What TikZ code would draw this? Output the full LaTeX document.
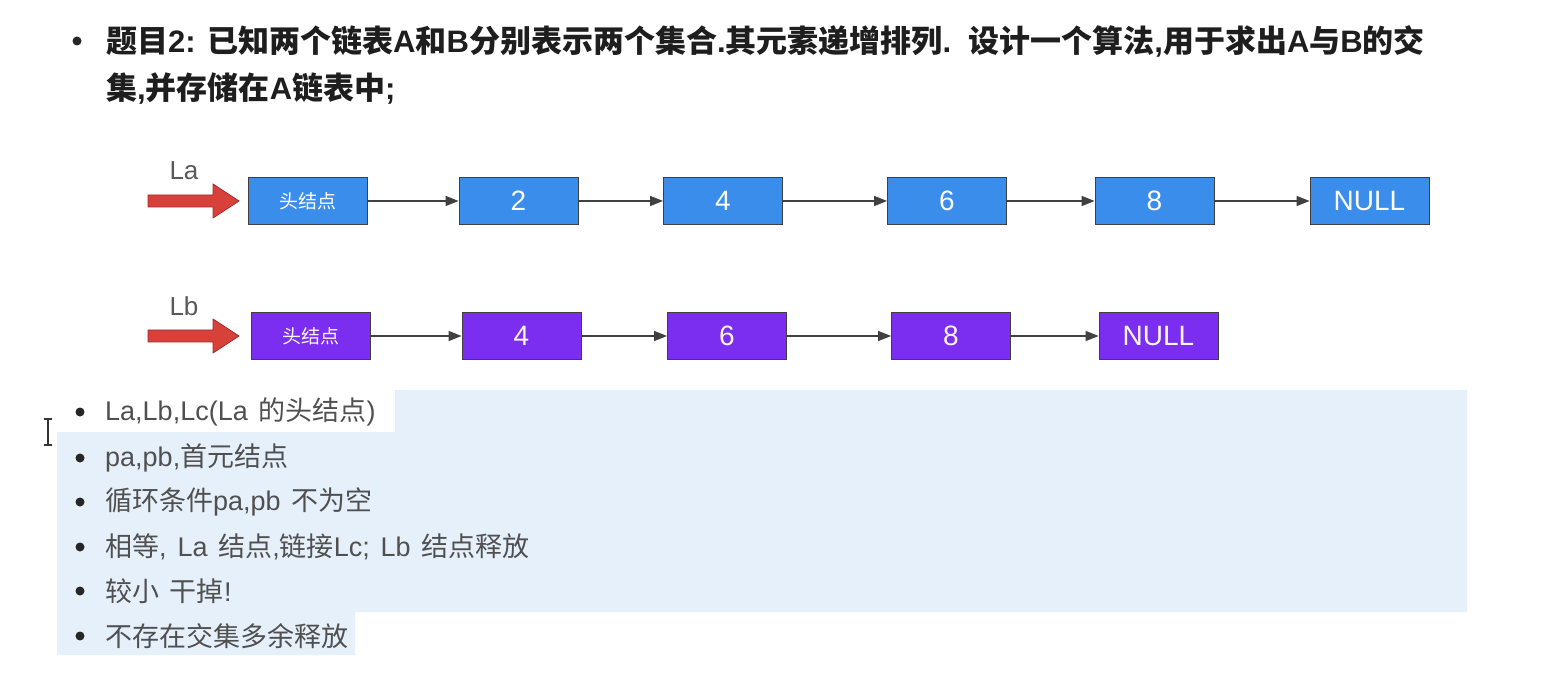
\documentclass[tikz,border=0pt]{standalone}
\usepackage{fontspec}
\setmainfont{Noto Sans CJK SC}
\newfontfamily\cjk{Noto Sans CJK SC}
\newfontfamily\lat{Liberation Sans}
\usetikzlibrary{arrows.meta}
\definecolor{nblue}{HTML}{3B8DEB}
\definecolor{npurple}{HTML}{7B2EF0}
\definecolor{hl}{HTML}{E6F0FB}
\definecolor{redarr}{HTML}{D8403A}
\definecolor{redbd}{HTML}{A52A2A}
\definecolor{titletext}{HTML}{1E1E1E}
\definecolor{listtext}{HTML}{505050}
\definecolor{linkc}{HTML}{404040}
\tikzset{
  lnode/.style={draw=black!75, line width=0.9pt, minimum width=119pt, minimum height=47pt, inner sep=0pt, text=white, font=\lat\fontsize{28}{30}\selectfont},
  anode/.style={lnode, fill=nblue},
  bnode/.style={lnode, fill=npurple, text=white!88!pink},
  link/.style={draw=linkc, line width=1.3pt, -{Triangle[length=13pt,width=10pt]}},
  ptr/.style={fill=redarr, draw=redbd, line width=0.8pt},
  ptrlabel/.style={text=black!65, font=\lat\fontsize{26}{28}\selectfont},
  titleline/.style={anchor=west, inner sep=0pt, text=titletext, font=\fontsize{31}{36}\selectfont\bfseries},
  item/.style={anchor=west, inner sep=0pt, text=listtext, font=\fontsize{27}{30}\selectfont},
  dot/.style={circle, fill=black!85, inner sep=0pt, minimum size=9pt}
}
\newcommand{\hd}{\cjk\fontsize{19}{22}\selectfont 头结点}
\newcommand{\wsp}{\hspace{0.4em}}
\begin{document}
\begin{tikzpicture}[x=1pt,y=-1pt]
\useasboundingbox (0,0) rectangle (1552,692);
\fill[white] (0,0) rectangle (1552,692);

% title
\node[dot] (tb) at (77,41) {};
\node[titleline] (t1) at (106,41) {题目{\lat\bfseries 2: }已知两个链表{\lat\bfseries A}和{\lat\bfseries B}分别表示两个集合{\lat\bfseries .}其元素递增排列{\lat\bfseries .\ \ }设计一个算法{\lat\bfseries ,}用于求出{\lat\bfseries A}与{\lat\bfseries B}的交};
\node[titleline] (t2) at (106,89) {集{\lat\bfseries ,}并存储在{\lat\bfseries A}链表中{\lat\bfseries ;}};

% list A
\node[anode] (a0) at (307.5,201) {\hd};
\node[anode] (a1) at (518.5,201) {2};
\node[anode] (a2) at (723,201) {4};
\node[anode] (a3) at (947,201) {6};
\node[anode] (a4) at (1154.5,201) {8};
\node[anode] (a5) at (1369.5,201) {NULL};
\foreach \i/\j in {a0/a1,a1/a2,a2/a3,a3/a4,a4/a5} \draw[link] (\i) -- (\j);

% list B
\node[bnode] (b0) at (311,336) {\hd};
\node[bnode] (b1) at (521.5,336) {4};
\node[bnode] (b2) at (727,336) {6};
\node[bnode] (b3) at (951,336) {8};
\node[bnode] (b4) at (1158.5,336) {NULL};
\foreach \i/\j in {b0/b1,b1/b2,b2/b3,b3/b4} \draw[link] (\i) -- (\j);

% pointers
\path[ptr] (148,195) -- (213,195) -- (213,184) -- (239,201) -- (213,218) -- (213,207) -- (148,207) -- cycle;
\node[ptrlabel] (la) at (184,171) {La};
\path[ptr] (148,330) -- (213,330) -- (213,319) -- (239,336) -- (213,353) -- (213,342) -- (148,342) -- cycle;
\node[ptrlabel] (lb) at (184,306) {Lb};

% selection highlight
\fill[hl] (395,390) -- (1467,390) -- (1467,612) -- (355,612) -- (355,655) -- (57,655) -- (57,432) -- (395,432) -- cycle;

% cursor
\draw[black!80, line width=1.2pt] (48,420) -- (48,444) (44,419) -- (52,419) (44,445) -- (52,445);

% bullet list
\node[dot] (d1) at (80,412) {};
\node[item] (i1) at (105,412) {{\lat La,Lb,Lc(La\wsp}的头结点{\lat )}};
\node[dot] (d2) at (80,458) {};
\node[item] (i2) at (105,458) {{\lat pa,pb,}首元结点};
\node[dot] (d3) at (80,502) {};
\node[item] (i3) at (105,502) {循环条件{\lat pa,pb\wsp}不为空};
\node[dot] (d4) at (80,547) {};
\node[item] (i4) at (105,547) {相等{\lat ,\wsp La\wsp}结点{\lat ,}链接{\lat Lc;\wsp Lb\wsp}结点释放};
\node[dot] (d5) at (80,591) {};
\node[item] (i5) at (105,591) {较小\wsp 干掉{\lat !}};
\node[dot] (d6) at (80,636) {};
\node[item] (i6) at (105,636) {不存在交集多余释放};
\end{tikzpicture}
\end{document}
